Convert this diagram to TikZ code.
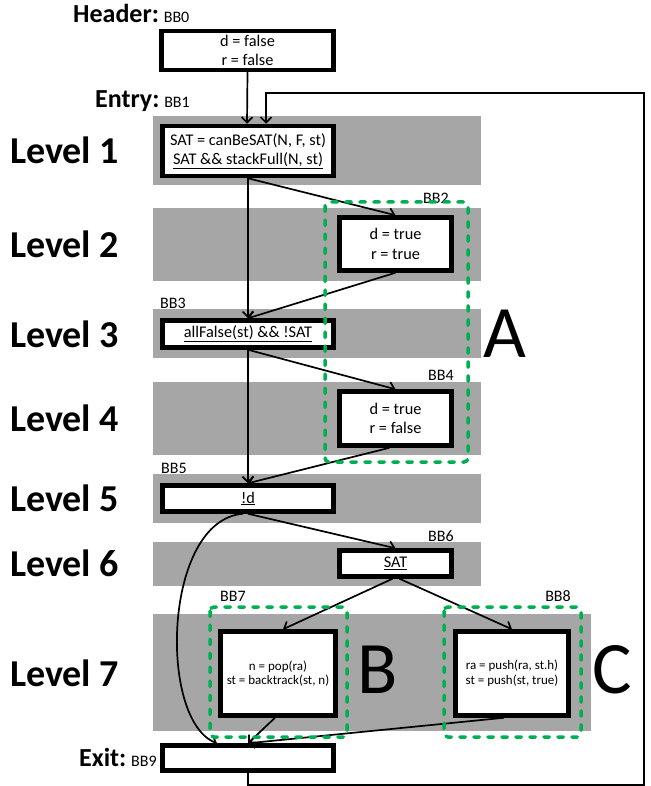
\documentclass[tikz,border=0pt]{standalone}
\usepackage{fontspec}
\setmainfont{Carlito}
\usetikzlibrary{arrows.meta}
\definecolor{bandgray}{HTML}{A6A6A6}
\definecolor{grpgreen}{HTML}{00B050}
\newcommand{\codesize}{\fontsize{16.3}{19.5}\selectfont}
\newcommand{\smallcode}{\fontsize{13}{14.5}\selectfont}
\newcommand{\bbname}{\fontsize{16}{16}\selectfont}
\newcommand{\headsize}{\fontsize{26}{26}\bfseries}
\begin{document}
\begin{tikzpicture}[x=1pt,y=-1pt,>={Straight Barb[length=5.5pt,width=11pt]},
    bb/.style={rectangle,draw,line width=4.5pt,fill=white,inner sep=0pt,align=center,font=\codesize},
    tag/.style={font=\bbname,inner sep=0pt},
    lvl/.style={anchor=west,font=\fontsize{38}{38}\bfseries,inner sep=0pt},
    grp/.style={font=\fontsize{74}{74}\selectfont,inner sep=0pt},
    band/.style={fill=bandgray},
    box/.style={draw=grpgreen,line width=3.5pt,dash pattern=on 5.5pt off 8.5pt,line cap=round,rounded corners=4pt},
    flow/.style={->,line width=1.7pt}]
        \useasboundingbox (0,0) rectangle (650,786);

        \fill[band] (153,116) rectangle (481,185);
        \fill[band] (153,208) rectangle (481,281);
        \fill[band] (153,309) rectangle (481,358);
        \fill[band] (153,382) rectangle (481,455);
        \fill[band] (153,474) rectangle (481,523);
        \fill[band] (153,542) rectangle (481,586);
        \fill[band] (153,614) rectangle (591,731);

        \draw (10,150) node (lv1) [lvl] {Level 1};
        \draw (10,244) node (lv2) [lvl] {Level 2};
        \draw (10,334) node (lv3) [lvl] {Level 3};
        \draw (10,418) node (lv4) [lvl] {Level 4};
        \draw (10,498) node (lv5) [lvl] {Level 5};
        \draw (10,563) node (lv6) [lvl] {Level 6};
        \draw (10,673) node (lv7) [lvl] {Level 7};

        \draw (73,23) node (hdr) [anchor=base west,inner sep=0pt] {\headsize Header:\mdseries\bbname{} BB0};
        \draw (95,108) node (ent) [anchor=base west,inner sep=0pt] {\headsize Entry:\mdseries\bbname{} BB1};
        \draw (79,766) node (ext) [anchor=base west,inner sep=0pt] {\headsize Exit:\mdseries\bbname{} BB9};

        \draw (247.5,50.5) node (bb0) [bb,minimum width=172pt,minimum height=39pt] {d = false\\r = false};
        \draw (248,151) node (bb1) [bb,minimum width=171pt,minimum height=50pt] {SAT = canBeSAT(N, F, st)\\\underline{SAT \&\& stackFull(N, st)}};
        \draw (395.5,244) node (bb2) [bb,minimum width=112pt,minimum height=53pt] {d = true\\r = true};
        \draw (248,334) node (bb3) [bb,minimum width=171pt,minimum height=27pt] {\underline{allFalse(st) \&\& !SAT}};
        \draw (395.5,418.5) node (bb4) [bb,minimum width=112pt,minimum height=54pt] {d = true\\r = false};
        \draw (248,498.5) node (bb5) [bb,minimum width=171pt,minimum height=26pt] {\underline{!d}};
        \draw (395.5,563.5) node (bb6) [bb,minimum width=112pt,minimum height=26pt] {\underline{SAT}};
        \draw (278,673.5) node (bb7) [bb,minimum width=115pt,minimum height=84pt,font=\smallcode] {n = pop(ra)\\st = backtrack(st, n)};
        \draw (512,673.5) node (bb8) [bb,minimum width=113pt,minimum height=84pt,font=\smallcode] {ra = push(ra, st.h)\\st = push(st, true)};
        \draw (248,758) node (bb9) [bb,minimum width=171pt,minimum height=25pt] {};

        \draw (436,198) node (t2) [tag] {BB2};
        \draw (173,303) node (t3) [tag] {BB3};
        \draw (441,375) node (t4) [tag] {BB4};
        \draw (174,468) node (t5) [tag] {BB5};
        \draw (441,536) node (t6) [tag] {BB6};
        \draw (233,596) node (t7) [tag] {BB7};
        \draw (558,596) node (t8) [tag] {BB8};

        \coordinate (fbr) at (644,785);
        \coordinate (fbt) at (644,93);
        \draw [flow] (bb0.south) -- ([xshift=-1pt]bb1.north);
        \draw [flow] (bb9.south) |- (fbr) -- (fbt) -| ([xshift=18pt]bb1.north);
        \draw [flow] (bb1.south) -- (bb2.north);
        \draw [flow] (bb1.south) -- (bb3.north);
        \draw [flow] (bb2.south) -- (bb3.north);
        \draw [flow] (bb3.south) -- (bb4.north);
        \draw [flow] (bb3.south) -- (bb5.north);
        \draw [flow] ([xshift=-6pt]bb4.south) -- (bb5.north);
        \draw [flow] (bb5.south) -- (bb6.north);
        \draw [flow] ([xshift=-5pt]bb5.south) .. controls (163,520) and (158,720) .. ([xshift=-31pt]bb9.north);
        \draw [flow] ([xshift=-3pt]bb6.south) -- ([xshift=5pt]bb7.north);
        \draw [flow] ([xshift=4pt]bb6.south) -- (bb8.north);
        \draw [flow] ([xshift=-3pt]bb7.south) -- (bb9.north);
        \draw [flow] ([xshift=-8pt]bb8.south) -- (bb9.north);

        \draw [box] (325,202) rectangle (468,462);
        \draw [box] (210,607) rectangle (347,737);
        \draw [box] (444,607) rectangle (581,737);
        \draw (505,334) node (ga) [grp] {A};
        \draw (378,670) node (gb) [grp] {B};
        \draw (612,670) node (gc) [grp] {C};
    \end{tikzpicture}
\end{document}
